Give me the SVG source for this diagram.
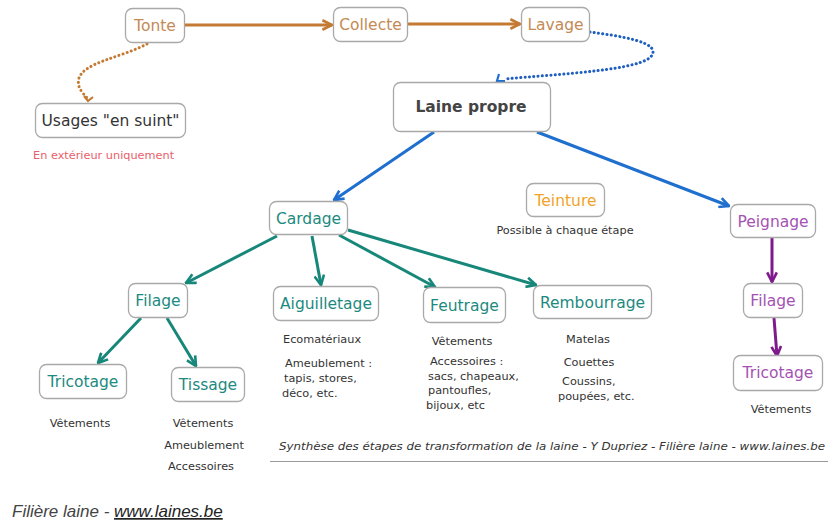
<svg xmlns="http://www.w3.org/2000/svg" width="828" height="523" viewBox="0 0 828 523">
  <defs>
    <style>
      .box { fill: #ffffff; stroke: #a9a9a9; stroke-width: 1.3; }
      .lbl { font-family: "DejaVu Sans", Verdana, sans-serif; font-size: 15.5px; text-anchor: middle; }
      .brown { fill: #c38a55; }
      .teal { fill: #1c8a80; }
      .purple { fill: #a453b3; }
      .note { font-family: "DejaVu Sans", Verdana, sans-serif; font-size: 11.3px; fill: #333; }
      .mid { text-anchor: middle; }
      .c-brown { stroke: #c47a33; stroke-width: 3; fill: none; }
      .c-blue { stroke: #1f6fcf; stroke-width: 3; fill: none; }
      .c-teal { stroke: #17877a; stroke-width: 3; fill: none; }
      .c-purple { stroke: #7f1a8c; stroke-width: 3; fill: none; }
      .dot { stroke-width: 3; stroke-linecap: round; stroke-dasharray: 0.1 4.2; fill: none; }
    </style>
    <marker id="ah-brown" viewBox="0 0 10 10" refX="9" refY="5" markerWidth="4" markerHeight="4" orient="auto" markerUnits="strokeWidth">
      <path d="M1,1 L9,5 L1,9" fill="none" stroke="#c47a33" stroke-width="2.2"/>
    </marker>
    <marker id="ah-blue" viewBox="0 0 10 10" refX="9" refY="5" markerWidth="4" markerHeight="4" orient="auto" markerUnits="strokeWidth">
      <path d="M1,1 L9,5 L1,9" fill="none" stroke="#1f6fcf" stroke-width="2.2"/>
    </marker>
    <marker id="ah-teal" viewBox="0 0 10 10" refX="9" refY="5" markerWidth="4" markerHeight="4" orient="auto" markerUnits="strokeWidth">
      <path d="M1,1 L9,5 L1,9" fill="none" stroke="#17877a" stroke-width="2.2"/>
    </marker>
    <marker id="ah-purple" viewBox="0 0 10 10" refX="9" refY="5" markerWidth="4" markerHeight="4" orient="auto" markerUnits="strokeWidth">
      <path d="M1,1 L9,5 L1,9" fill="none" stroke="#7f1a8c" stroke-width="2.2"/>
    </marker>
    <filter id="soft" x="-5%" y="-200%" width="110%" height="500%">
      <feGaussianBlur stdDeviation="1"/>
    </filter>
  </defs>

  <rect width="828" height="523" fill="#ffffff"/>

  <!-- connectors -->
  <g id="connectors">
    <line class="c-brown" x1="184" y1="25" x2="332" y2="25" marker-end="url(#ah-brown)"/>
    <line class="c-brown" x1="407" y1="24" x2="520" y2="24" marker-end="url(#ah-brown)"/>
    <path class="dot" stroke="#c47a33" d="M147,44 C120,58 85,62 79,78 C76,88 84,94 88,99"/>
    <path d="M84,96 L88,101 L93,97" fill="none" stroke="#c47a33" stroke-width="2.2"/>
    <path class="dot" stroke="#1f5fc0" d="M590,32 C620,36 660,42 652,55 C645,70 560,74 504,79"/>
    <path d="M499,74 L497,81 L505,81" fill="none" stroke="#1f6fcf" stroke-width="2.2"/>
    <line class="c-blue" x1="434" y1="132" x2="334" y2="200" marker-end="url(#ah-blue)"/>
    <line class="c-blue" x1="537" y1="132" x2="729" y2="206" marker-end="url(#ah-blue)"/>
    <line class="c-teal" x1="277" y1="236" x2="186" y2="283" marker-end="url(#ah-teal)"/>
    <line class="c-teal" x1="312" y1="236" x2="321" y2="285" marker-end="url(#ah-teal)"/>
    <line class="c-teal" x1="339" y1="235" x2="435" y2="287" marker-end="url(#ah-teal)"/>
    <line class="c-teal" x1="348" y1="230" x2="536" y2="285" marker-end="url(#ah-teal)"/>
    <line class="c-teal" x1="141" y1="318" x2="98" y2="363" marker-end="url(#ah-teal)"/>
    <line class="c-teal" x1="167" y1="318" x2="196" y2="366" marker-end="url(#ah-teal)"/>
    <line class="c-purple" x1="772" y1="238" x2="772" y2="282" marker-end="url(#ah-purple)"/>
    <line class="c-purple" x1="774" y1="318" x2="777" y2="356" marker-end="url(#ah-purple)"/>
  </g>

  <!-- upstream chain -->
  <g id="tonte">
    <rect class="box" x="125.5" y="8.5" width="59" height="34" rx="7"/>
    <text class="lbl brown" x="155" y="31">Tonte</text>
  </g>
  <g id="collecte">
    <rect class="box" x="333.5" y="7.5" width="74" height="34" rx="7"/>
    <text class="lbl brown" x="370.5" y="30">Collecte</text>
  </g>
  <g id="lavage">
    <rect class="box" x="521.5" y="7.5" width="68" height="34" rx="7"/>
    <text class="lbl brown" x="555.5" y="30">Lavage</text>
  </g>
  <g id="usages-en-suint">
    <rect class="box" x="35.5" y="103.5" width="150" height="34" rx="7"/>
    <text class="lbl" x="110.5" y="126" fill="#333">Usages "en suint"</text>
    <text class="note" x="33" y="159" style="fill:#e8606a">En extérieur uniquement</text>
  </g>
  <g id="laine-propre">
    <rect class="box" x="393.5" y="82.5" width="157" height="49" rx="7"/>
    <text class="lbl" x="471" y="112" font-weight="bold" fill="#444">Laine propre</text>
  </g>
  <g id="teinture">
    <rect class="box" x="526.5" y="183.5" width="78" height="33" rx="7"/>
    <text class="lbl" x="565.5" y="206" fill="#f2a32a">Teinture</text>
    <text class="note mid" x="565" y="234">Possible à chaque étape</text>
  </g>

  <!-- carding branch -->
  <g id="cardage">
    <rect class="box" x="269.5" y="201.5" width="78" height="33" rx="7"/>
    <text class="lbl teal" x="308.5" y="224">Cardage</text>
  </g>
  <g id="filage-carde">
    <rect class="box" x="128.5" y="283.5" width="59" height="34" rx="7"/>
    <text class="lbl teal" x="158" y="306">Filage</text>
  </g>
  <g id="aiguilletage">
    <rect class="box" x="273.5" y="286.5" width="105" height="34" rx="7"/>
    <text class="lbl teal" x="326" y="309">Aiguilletage</text>
    <text class="note" x="283" y="343">Ecomatériaux</text>
    <text class="note" x="285" y="367">Ameublement :</text>
    <text class="note" x="284" y="382">tapis, stores,</text>
    <text class="note" x="282" y="397">déco, etc.</text>
  </g>
  <g id="feutrage">
    <rect class="box" x="423.5" y="287.5" width="82" height="35" rx="7"/>
    <text class="lbl teal" x="464.5" y="311">Feutrage</text>
    <text class="note mid" x="462" y="345">Vêtements</text>
    <text class="note" x="430" y="365">Accessoires :</text>
    <text class="note" x="428" y="380">sacs, chapeaux,</text>
    <text class="note" x="428" y="394">pantoufles,</text>
    <text class="note" x="426" y="409">bijoux, etc</text>
  </g>
  <g id="rembourrage">
    <rect class="box" x="533.5" y="285.5" width="118" height="33" rx="7"/>
    <text class="lbl teal" x="592.5" y="308">Rembourrage</text>
    <text class="note mid" x="588" y="343">Matelas</text>
    <text class="note mid" x="589" y="366">Couettes</text>
    <text class="note" x="562" y="385">Coussins,</text>
    <text class="note" x="558" y="400">poupées, etc.</text>
  </g>
  <g id="tricotage-carde">
    <rect class="box" x="39.5" y="364.5" width="87" height="34" rx="7"/>
    <text class="lbl teal" x="83" y="387">Tricotage</text>
    <text class="note mid" x="80" y="427">Vêtements</text>
  </g>
  <g id="tissage">
    <rect class="box" x="171.5" y="367.5" width="73" height="34" rx="7"/>
    <text class="lbl teal" x="208" y="390">Tissage</text>
    <text class="note mid" x="203" y="427">Vêtements</text>
    <text class="note mid" x="204" y="449">Ameublement</text>
    <text class="note mid" x="201" y="470">Accessoires</text>
  </g>

  <!-- combing branch -->
  <g id="peignage">
    <rect class="box" x="730.5" y="204.5" width="85" height="33" rx="7"/>
    <text class="lbl purple" x="773" y="227">Peignage</text>
  </g>
  <g id="filage-peigne">
    <rect class="box" x="743.5" y="283.5" width="59" height="34" rx="7"/>
    <text class="lbl purple" x="773" y="306">Filage</text>
  </g>
  <g id="tricotage-peigne">
    <rect class="box" x="733.5" y="355.5" width="89" height="35" rx="7"/>
    <text class="lbl purple" x="778" y="378">Tricotage</text>
    <text class="note mid" x="781" y="413">Vêtements</text>
  </g>

  <!-- caption and rule -->
  <g id="caption">
    <text class="note" x="279" y="450" font-style="italic" textLength="546" lengthAdjust="spacingAndGlyphs">Synthèse des étapes de transformation de la laine - Y Dupriez - Filière laine - www.laines.be</text>
    <line x1="270" y1="463" x2="828" y2="463" stroke="#cfcfcf" stroke-width="3" filter="url(#soft)"/>
    <line x1="270" y1="461.5" x2="828" y2="461.5" stroke="#9a9a9a" stroke-width="1"/>
  </g>

  <!-- page footer -->
  <g id="footer">
    <text x="12" y="517" font-family="'Liberation Sans', Arial, sans-serif" font-size="17" font-style="italic" fill="#444">Filière laine - <tspan fill="#222" text-decoration="underline">www.laines.be</tspan></text>
  </g>
</svg>
